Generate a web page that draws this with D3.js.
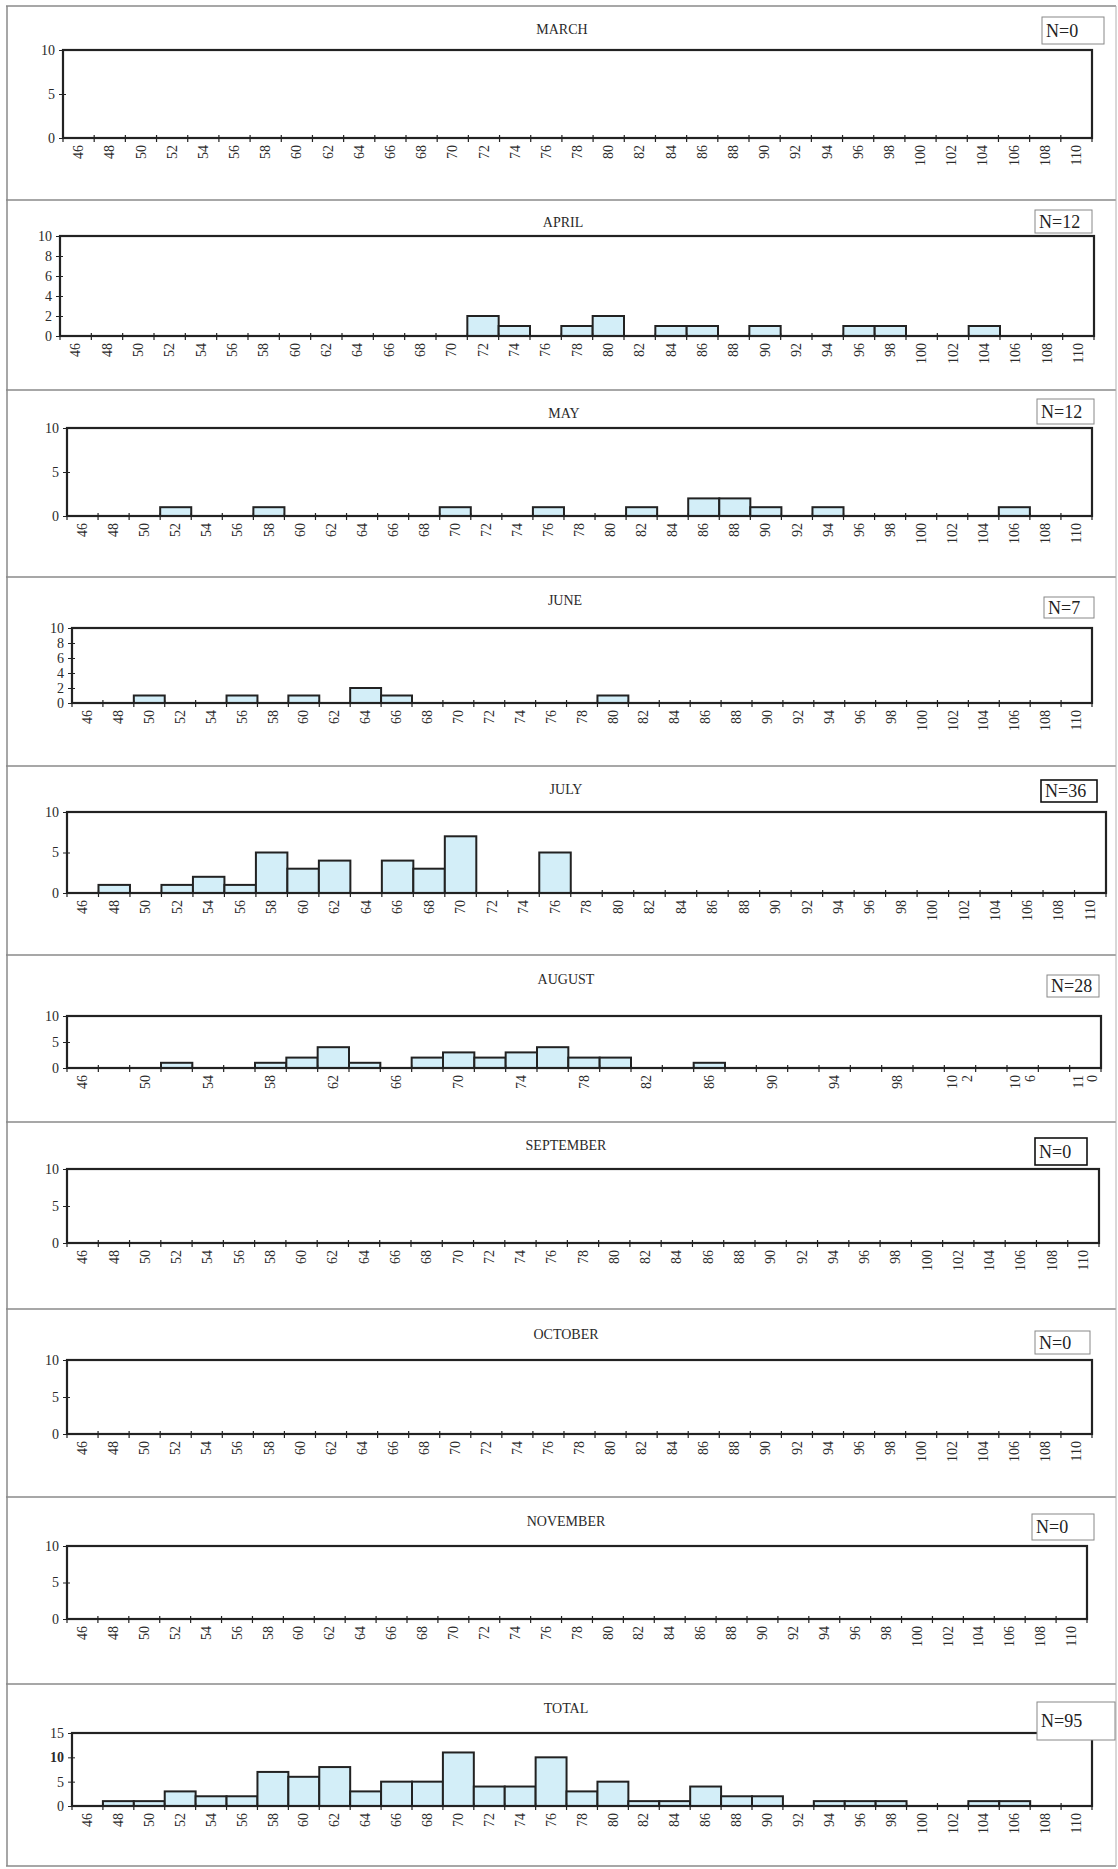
<!DOCTYPE html>
<html>
<head>
<meta charset="utf-8">
<script src="https://cdn.jsdelivr.net/npm/d3@7"></script>
<style>
  html, body { margin: 0; padding: 0; background: #fff; }
  svg { display: block; }
</style>
</head>
<body>
<svg id="chart" width="1118" height="1869"></svg>
<script>
// length classes on the x axis
const lengthClasses = ["46","48","50","52","54","56","58","60","62","64","66","68","70","72","74","76",
  "78","80","82","84","86","88","90","92","94","96","98","100","102","104","106","108","110"];

const monthNames = ["MARCH","APRIL","MAY","JUNE","JULY","AUGUST","SEPTEMBER","OCTOBER","NOVEMBER","TOTAL"];
const nLabels = ["N=0","N=12","N=12","N=7","N=36","N=28","N=0","N=0","N=0","N=95"];

// counts per length class
const march     = [0,0,0,0,0,0,0,0,0,0,0,0,0,0,0,0,0,0,0,0,0,0,0,0,0,0,0,0,0,0,0,0,0];
const april     = [0,0,0,0,0,0,0,0,0,0,0,0,0,2,1,0,1,2,0,1,1,0,1,0,0,1,1,0,0,1,0,0,0];
const may       = [0,0,0,1,0,0,1,0,0,0,0,0,1,0,0,1,0,0,1,0,2,2,1,0,1,0,0,0,0,0,1,0,0];
const june      = [0,0,1,0,0,1,0,1,0,2,1,0,0,0,0,0,0,1,0,0,0,0,0,0,0,0,0,0,0,0,0,0,0];
const july      = [0,1,0,1,2,1,5,3,4,0,4,3,7,0,0,5,0,0,0,0,0,0,0,0,0,0,0,0,0,0,0,0,0];
const august    = [0,0,0,1,0,0,1,2,4,1,0,2,3,2,3,4,2,2,0,0,1,0,0,0,0,0,0,0,0,0,0,0,0];
const september = [0,0,0,0,0,0,0,0,0,0,0,0,0,0,0,0,0,0,0,0,0,0,0,0,0,0,0,0,0,0,0,0,0];
const october   = [0,0,0,0,0,0,0,0,0,0,0,0,0,0,0,0,0,0,0,0,0,0,0,0,0,0,0,0,0,0,0,0,0];
const november  = [0,0,0,0,0,0,0,0,0,0,0,0,0,0,0,0,0,0,0,0,0,0,0,0,0,0,0,0,0,0,0,0,0];
const total     = [0,1,1,3,2,2,7,6,8,3,5,5,11,4,4,10,3,5,1,1,4,2,2,0,1,1,1,0,0,1,1,0,0];

const series = [march, april, may, june, july, august, september, october, november, total];

// y axis tick labels
const ticksByFive = [0, 5, 10];
const ticksByTwo = [0, 2, 4, 6, 8, 10];
const ticksTotal = [0, 5, 10, 15];
const yTickSets = [ticksByFive, ticksByTwo, ticksByFive, ticksByTwo, ticksByFive,
  ticksByFive, ticksByFive, ticksByFive, ticksByFive, ticksTotal];
const yMaxes = [10, 10, 10, 10, 10, 10, 10, 10, 10, 15];

// page layout of the scanned panels (pixels)
const frameTops = [6, 200, 390, 577, 766, 955, 1122, 1309, 1497, 1684, 1866];
const layout = [
  {left: 63, right: 1092, top: 50,   bottom: 138,  titleX: 562, titleY: 34,   box: [1042, 17, 62, 27]},
  {left: 60, right: 1094, top: 236,  bottom: 336,  titleX: 563, titleY: 227,  box: [1035, 210, 57, 23]},
  {left: 67, right: 1092, top: 428,  bottom: 516,  titleX: 564, titleY: 418,  box: [1037, 399, 57, 25]},
  {left: 72, right: 1092, top: 628,  bottom: 703,  titleX: 565, titleY: 605,  box: [1044, 597, 50, 21]},
  {left: 67, right: 1106, top: 812,  bottom: 893,  titleX: 566, titleY: 794,  box: [1041, 780, 56, 22], bold: true},
  {left: 67, right: 1101, top: 1016, bottom: 1068, titleX: 566, titleY: 984,  box: [1047, 975, 52, 22]},
  {left: 67, right: 1099, top: 1169, bottom: 1243, titleX: 566, titleY: 1150, box: [1035, 1138, 52, 27], bold: true},
  {left: 67, right: 1092, top: 1360, bottom: 1434, titleX: 566, titleY: 1339, box: [1035, 1331, 55, 23]},
  {left: 67, right: 1087, top: 1546, bottom: 1619, titleX: 566, titleY: 1526, box: [1032, 1514, 62, 26]},
  {left: 72, right: 1092, top: 1733, bottom: 1806, titleX: 566, titleY: 1713, box: [1037, 1702, 78, 38]}
];

const serif = "'Liberation Serif', 'Times New Roman', serif";
const ink = "#222";
const svg = d3.select("#chart");

// outer frame of the scanned page
svg.append("g").attr("class", "frame").selectAll("line").data(frameTops)
  .join("line")
  .attr("x1", 6).attr("x2", 1116)
  .attr("y1", d => d).attr("y2", d => d)
  .attr("stroke", "#8a8a8a").attr("stroke-width", 1.5);
svg.append("line").attr("x1", 7).attr("x2", 7).attr("y1", 6).attr("y2", 1866)
  .attr("stroke", "#8a8a8a").attr("stroke-width", 1.5);
svg.append("line").attr("x1", 1116).attr("x2", 1116).attr("y1", 6).attr("y2", 1866)
  .attr("stroke", "#b0b0b0").attr("stroke-width", 1);

const drawPanel = (i) => {
  const L = layout[i];
  const g = svg.append("g").attr("class", "panel-" + monthNames[i].toLowerCase());

  const x = d3.scaleBand().domain(lengthClasses).range([L.left, L.right]).padding(0);
  const y = d3.scaleLinear().domain([0, yMaxes[i]]).range([L.bottom, L.top]);

  // bars
  const data = series[i].map((v, j) => ({k: lengthClasses[j], v: v})).filter(d => d.v > 0);
  g.append("g").attr("class", "bars").selectAll("rect").data(data)
    .join("rect")
    .attr("x", d => x(d.k))
    .attr("y", d => y(d.v))
    .attr("width", x.bandwidth())
    .attr("height", d => y(0) - y(d.v))
    .attr("fill", "#d3eef8")
    .attr("stroke", ink).attr("stroke-width", 2);

  // plot area border
  g.append("rect")
    .attr("x", L.left).attr("y", L.top)
    .attr("width", L.right - L.left).attr("height", L.bottom - L.top)
    .attr("fill", "none").attr("stroke", ink).attr("stroke-width", 2.2);

  // y axis
  const yAxis = g.append("g").attr("transform", `translate(${L.left},0)`)
    .call(d3.axisLeft(y).tickValues(yTickSets[i]).tickSize(4).tickPadding(4));
  yAxis.select(".domain").remove();
  yAxis.selectAll(".tick line").attr("x1", 3).attr("stroke", ink);
  yAxis.selectAll("text").attr("font-family", serif).attr("font-size", 14).attr("fill", "#2a2a2a")
    .attr("font-weight", d => (i === 9 && d === 10) ? "bold" : "normal");

  // x axis: labels centred in each class, ticks at the class boundaries
  const everyOther = i === 5;
  const xAxis = g.append("g").attr("transform", `translate(0,${L.bottom})`)
    .call(d3.axisBottom(x).tickSize(0).tickPadding(0)
      .tickFormat((d, j) => (everyOther && j % 2 === 1) ? "" : d));
  xAxis.select(".domain").remove();
  xAxis.selectAll("text")
    .attr("font-family", serif).attr("font-size", 14).attr("fill", "#2a2a2a")
    .attr("transform", "rotate(-90)")
    .attr("text-anchor", "end")
    .attr("x", -7).attr("y", 0).attr("dy", "0.33em");
  if (everyOther) {
    // the August labels with three digits wrap onto two lines
    xAxis.selectAll("text").filter(function() { return this.textContent.length === 3; })
      .each(function() {
        const t = d3.select(this);
        const s = t.text();
        t.text(null);
        t.append("tspan").attr("x", -7).text(s.slice(0, 2));
        t.append("tspan").attr("x", -7).attr("dy", "1.05em").text(s.slice(2));
      })
      .attr("dy", "-0.2em");
  }
  g.append("g").attr("class", "class-ticks").selectAll("line")
    .data(lengthClasses.map(c => x(c)).concat([L.right]))
    .join("line")
    .attr("x1", d => d).attr("x2", d => d)
    .attr("y1", L.bottom - 3).attr("y2", L.bottom + 4)
    .attr("stroke", ink).attr("stroke-width", 1.2);

  // panel title
  g.append("text").attr("x", L.titleX).attr("y", L.titleY)
    .attr("text-anchor", "middle").attr("font-family", serif).attr("font-size", 14)
    .attr("fill", "#2a2a2a").text(monthNames[i]);

  // sample size box
  const [bx, by, bw, bh] = L.box;
  g.append("rect").attr("x", bx).attr("y", by).attr("width", bw).attr("height", bh)
    .attr("fill", "#fff")
    .attr("stroke", L.bold ? "#111" : "#888").attr("stroke-width", L.bold ? 1.6 : 1);
  g.append("text").attr("x", bx + 4).attr("y", by + bh / 2).attr("dy", "0.35em")
    .attr("font-family", serif).attr("font-size", 18).attr("fill", "#222")
    .text(nLabels[i]);
};

monthNames.forEach((m, i) => drawPanel(i));
</script>
</body>
</html>
